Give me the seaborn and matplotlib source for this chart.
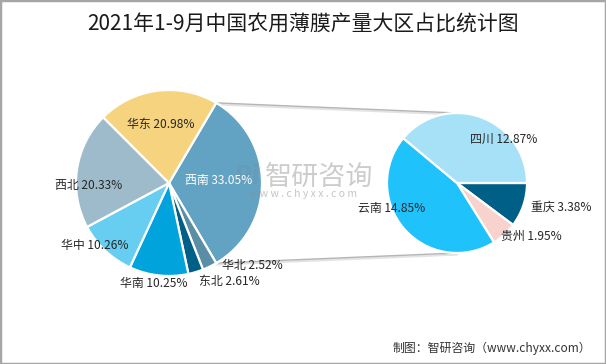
import numpy as np
import matplotlib
matplotlib.use('Agg')
import matplotlib.pyplot as plt
import seaborn as sns
from matplotlib.patches import Rectangle

# data
regions = ['西南', '华北', '东北', '华南', '华中', '西北', '华东']
region_share = [33.05, 2.52, 2.61, 10.25, 10.26, 20.33, 20.98]
region_colors = ['#62A3C4', '#5A8EA6', '#005F86', '#00A3DC', '#67CDF1', '#9EBBCB', '#F6D37F']

provinces = ['重庆', '贵州', '云南', '四川']
province_share = [3.38, 1.95, 14.85, 12.87]
province_colors = ['#005F86', '#F8D2CC', '#1FC2FA', '#A7E1F8']

title = '2021年1-9月中国农用薄膜产量大区占比统计图'
source = '制图：智研咨询（www.chyxx.com）'

sns.set_theme(style='white')
plt.rcParams['font.family'] = ['Noto Sans CJK SC', 'DejaVu Sans']

W, H = 606, 364
fig = plt.figure(figsize=(W / 100, H / 100), dpi=100)
ax = fig.add_axes([0, 0, 1, 1])

# layout (pixel coords, y from top)
left_c, left_r = (169, 183), 93
right_c, right_r = (457, 183), 70
left_label_pos = [(219, 180), (252, 265), (229, 281), (154, 283), (95, 246), (89, 186), (161, 124)]
right_label_pos = [(561, 207), (531, 236), (392, 208), (504, 139)]

def px(p):
    return (p[0], H - p[1])

wedge_style = dict(edgecolor='white', linewidth=1.6)

lw, _ = ax.pie(region_share, colors=region_colors, startangle=region_share[0] / 100 * 180,
               counterclock=False, center=px(left_c), radius=left_r, wedgeprops=wedge_style)
rw, _ = ax.pie(province_share, colors=province_colors, startangle=0,
               counterclock=False, center=px(right_c), radius=right_r, wedgeprops=wedge_style)

# watermark (drawn under the labels)
ax.text(319, H - 177, '智研咨询', fontsize=19.5, color='#9A9A9A', alpha=0.5,
        ha='center', va='center', zorder=4)
ax.text(247, H - 177, 'Pi', fontsize=19, fontweight='bold', color='#6F8FA8', alpha=0.4,
        ha='center', va='center', zorder=4)
ax.text(303, H - 194, 'w w w . c h y x x . c o m', fontsize=7.5, color='#8A8A8A', alpha=0.5,
        ha='center', va='center', zorder=4)

# labels
for i, (name, val) in enumerate(zip(regions, region_share)):
    col = 'white' if i == 0 else '#262626'
    ax.text(*px(left_label_pos[i]), f'{name} {val:.2f}%', ha='center', va='center',
            fontsize=8.6, color=col, zorder=5)
for i, (name, val) in enumerate(zip(provinces, province_share)):
    ax.text(*px(right_label_pos[i]), f'{name} {val:.2f}%', ha='center', va='center',
            fontsize=8.6, color='#262626', zorder=5)

# connector lines from the 西南 wedge to the breakdown pie
w0 = lw[0]
cx, cy = px(left_c)
rcx, rcy = px(right_c)
for ang, ry in [(w0.theta2, rcy + right_r), (w0.theta1, rcy - right_r)]:
    x0 = cx + left_r * np.cos(np.radians(ang))
    y0 = cy + left_r * np.sin(np.radians(ang))
    ax.plot([x0, rcx], [y0 - 1.5, ry - 1.5], color='#E3E3E3', lw=1.6, zorder=0)
    ax.plot([x0, rcx], [y0, ry], color='#B5B5B5', lw=1.0, zorder=0)

ax.set_xlim(0, W)
ax.set_ylim(0, H)
ax.set_aspect('auto')
ax.axis('off')

fig.text(0.5, 1 - 25 / H, title, ha='center', va='center', fontsize=15,
         fontweight='medium', color='#1A1A1A')
fig.text(591 / W, 1 - 348 / H, source, ha='right', va='center', fontsize=8.6, color='#333333')
fig.add_artist(Rectangle((0, 0), 1, 1, transform=fig.transFigure, fill=False,
                         edgecolor='#A6A6A6', linewidth=2.5))

fig.savefig('out.png', dpi=100, facecolor='white')
